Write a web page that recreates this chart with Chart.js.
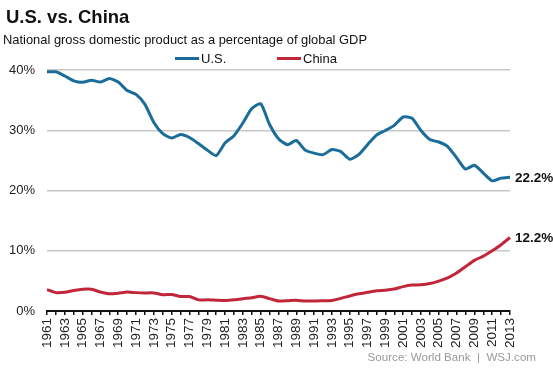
<!DOCTYPE html>
<html>
<head>
<meta charset="utf-8">
<script src="https://cdn.jsdelivr.net/npm/chart.js@4.4.1/dist/chart.umd.min.js"></script>
<style>
  body { margin: 0; background: #fff; font-family: 'Liberation Sans', Arial, sans-serif; }
  #wrap { position: relative; width: 553px; height: 369px; }
  #chart { position: absolute; left: 0; top: 0; }
  .txt { position: absolute; white-space: nowrap; color: #111; }
  #title    { left: 6px;  top: 6px;  font-size: 18.5px; font-weight: bold; }
  #subtitle { left: 3px;  top: 32px; font-size: 12.9px; }
  #source   { right: 17px; top: 350px; font-size: 11.6px; color: #999; }
  .leg      { top: 51px; font-size: 13px; }
  .leg i    { display: inline-block; width: 24px; height: 3px; vertical-align: middle; margin-right: 2px; position: relative; top: -1px; }
</style>
</head>
<body>
<div id="wrap">
  <canvas id="chart" width="553" height="369"></canvas>
  <div class="txt" id="title">U.S. vs. China</div>
  <div class="txt" id="subtitle">National gross domestic product as a percentage of global GDP</div>
  <div class="txt leg" style="left:175px"><i style="background:#1b6d99"></i>U.S.</div>
  <div class="txt leg" style="left:277px"><i style="background:#c1263a"></i>China</div>
  <div class="txt" id="source">Source: World Bank &nbsp;|&nbsp; WSJ.com</div>
</div>
<script>
'use strict';

// ── data (share of global GDP, %) ─────────────────────────
const years = [];
for (let y = 1961; y <= 2013; y++) years.push(String(y));

const usShare = [
  39.7, 39.7, 39.0, 38.2, 37.95, 38.3, 38.0, 38.6, 38.0, 36.6,
  35.95, 34.3, 31.3, 29.45, 28.7, 29.3, 28.8, 27.8, 26.7, 25.8,
  27.9, 29.1, 31.2, 33.6, 34.4, 30.95, 28.6, 27.6, 28.3, 26.7,
  26.2, 25.95, 26.8, 26.45, 25.2, 25.95, 27.6, 29.2, 29.95, 30.8,
  32.2, 32.0, 29.95, 28.45, 28.05, 27.3, 25.45, 23.55, 24.2, 22.9,
  21.6, 22.05, 22.2
];

const chinaShare = [
  3.55, 3.05, 3.1, 3.4, 3.6, 3.6, 3.15, 2.85, 2.95, 3.15,
  3.05, 3.0, 3.0, 2.7, 2.75, 2.4, 2.4, 1.85, 1.85, 1.8,
  1.75, 1.85, 2.05, 2.2, 2.45, 2.05, 1.65, 1.7, 1.8, 1.65,
  1.65, 1.7, 1.75, 2.1, 2.5, 2.85, 3.1, 3.35, 3.45, 3.65,
  4.05, 4.3, 4.35, 4.55, 4.95, 5.5, 6.3, 7.35, 8.4, 9.1,
  10.0, 11.0, 12.2
];

const yTicks = [0, 10, 20, 30, 40];

const BLUE = '#1b6d99';
const RED  = '#c1263a';
const FONT = "'Liberation Sans', Arial, sans-serif";

// end-of-line value labels
const endLabels = {
  id: 'endLabels',
  afterDatasetsDraw(chart) {
    const { ctx } = chart;
    ctx.save();
    ctx.font = 'bold 13.5px ' + FONT;
    ctx.fillStyle = '#111';
    ctx.textBaseline = 'middle';
    chart.data.datasets.forEach((ds, i) => {
      const meta = chart.getDatasetMeta(i);
      const pt = meta.data[meta.data.length - 1];
      const v = ds.data[ds.data.length - 1];
      ctx.fillText(v.toFixed(1) + '%', pt.x + 5, pt.y + 1);
    });
    ctx.restore();
  },
};

new Chart(document.getElementById('chart'), {
  type: 'line',
  data: {
    labels: years,
    datasets: [
      { label: 'U.S.',  data: usShare,    borderColor: BLUE, borderWidth: 3, pointRadius: 0, tension: 0.2 },
      { label: 'China', data: chinaShare, borderColor: RED,  borderWidth: 3, pointRadius: 0, tension: 0.2 },
    ],
  },
  options: {
    responsive: false,
    animation: false,
    layout: { padding: { top: 70, right: 43, left: 0, bottom: 0 } },
    plugins: { legend: { display: false }, tooltip: { enabled: false } },
    scales: {
      x: {
        offset: false,
        grid: { drawOnChartArea: false, drawTicks: true, tickLength: 4, color: '#111', lineWidth: 1.5 },
        border: { display: true, color: '#111', width: 2 },
        ticks: {
          autoSkip: false,
          maxRotation: 90, minRotation: 90,
          padding: 3,
          color: '#222',
          font: { size: 13.5, family: FONT },
          callback: (v, i) => (i % 2 === 0 ? years[i] : ''),
        },
        afterFit: (s) => { s.height = 58; },
      },
      y: {
        min: 0, max: 40,
        afterBuildTicks: (s) => { s.ticks = yTicks.map((v) => ({ value: v })); },
        grid: { drawTicks: false, color: '#c8c8c8', lineWidth: 1.5 },
        border: { display: false },
        ticks: {
          padding: 12,
          color: '#222',
          font: { size: 13, family: FONT },
          callback: (v) => v + '%',
        },
        afterFit: (s) => { s.width = 47; },
      },
    },
  },
  plugins: [endLabels],
});
</script>
</body>
</html>
